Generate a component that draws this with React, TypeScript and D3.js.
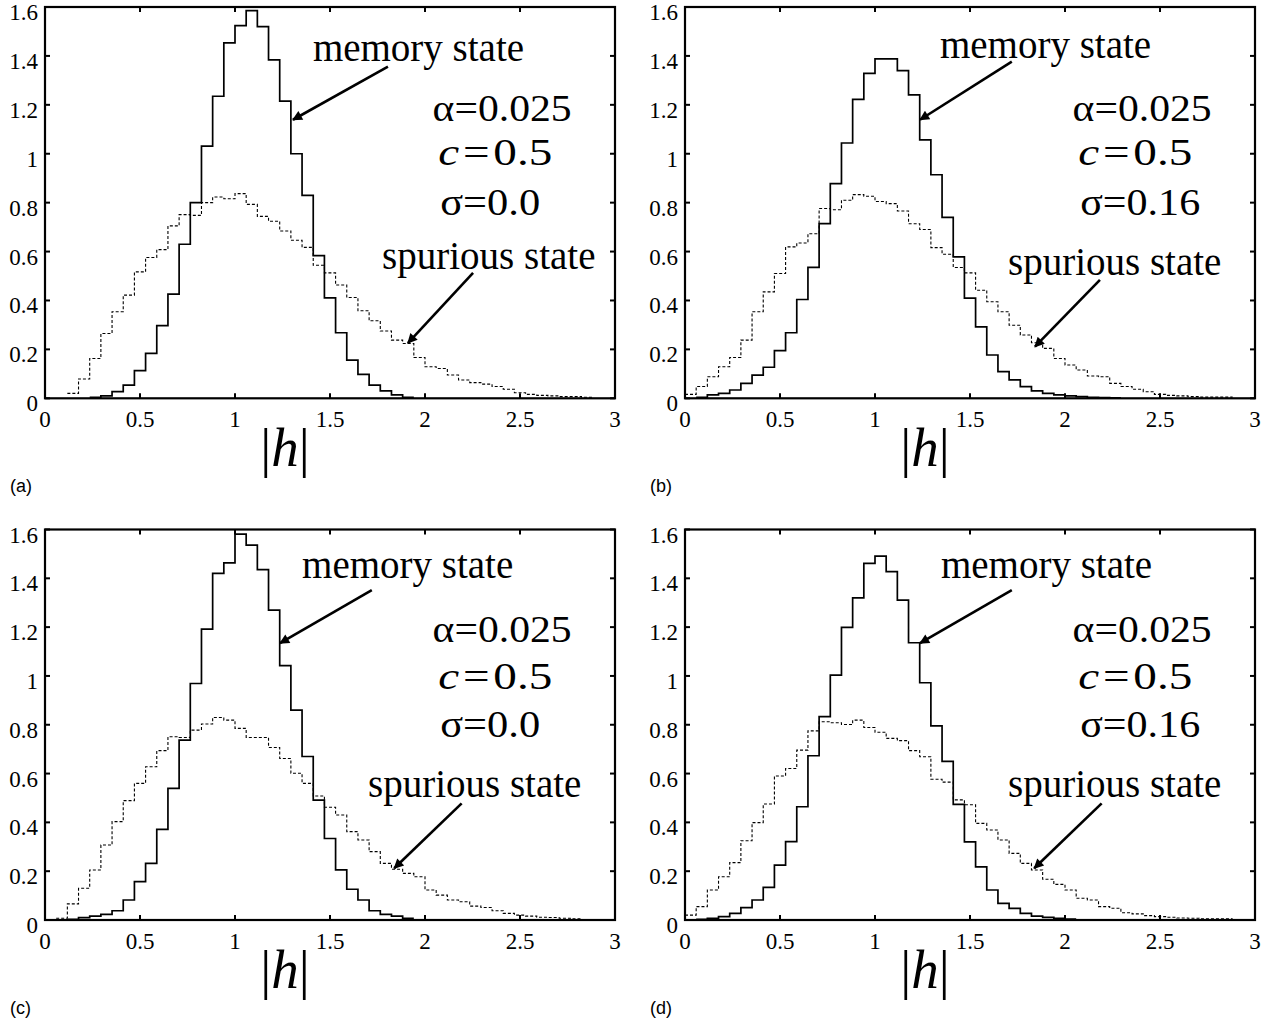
import React from 'react';
import * as d3 from 'd3';

// ---------- data ----------
const BIN_WIDTH = 3 / 51; // 51 bins over |h| in [0, 3]

const xTickValues = [0, 0.5, 1, 1.5, 2, 2.5, 3];
const xTickLabels = ['0', '0.5', '1', '1.5', '2', '2.5', '3'];
const yTickValues = [0, 0.2, 0.4, 0.6, 0.8, 1, 1.2, 1.4, 1.6];
const yTickLabels = ['0', '0.2', '0.4', '0.6', '0.8', '1', '1.2', '1.4', '1.6'];

const panelLetters = ['(a)', '(b)', '(c)', '(d)'];
const alphaValues = ['0.025', '0.025', '0.025', '0.025'];
const cValues = ['0.5', '0.5', '0.5', '0.5'];
const sigmaValues = ['0.0', '0.16', '0.0', '0.16'];

const memoryA = [
  0, 0, 0, 0, 0.004, 0.01, 0.027, 0.054, 0.113, 0.184, 0.297, 0.426, 0.63, 0.8, 1.031, 1.235, 1.453,
  1.524, 1.585, 1.52, 1.384, 1.215, 1.0, 0.83, 0.583, 0.411, 0.268, 0.156, 0.098, 0.054, 0.03, 0.014,
  0.004, 0, 0, 0, 0, 0, 0, 0, 0, 0, 0, 0, 0, 0, 0, 0, 0, 0, 0,
];
const spuriousA = [
  0, 0, 0.02, 0.079, 0.163, 0.265, 0.354, 0.422, 0.517, 0.576, 0.608, 0.705, 0.751, 0.748, 0.8, 0.823,
  0.816, 0.837, 0.793, 0.744, 0.724, 0.684, 0.646, 0.617, 0.544, 0.513, 0.463, 0.412, 0.358, 0.317,
  0.275, 0.238, 0.224, 0.167, 0.129, 0.122, 0.095, 0.075, 0.064, 0.058, 0.048, 0.037, 0.023, 0.016,
  0.012, 0.01, 0.007, 0.007, 0.004, 0, 0,
];
const memoryB = [
  0, 0.004, 0.014, 0.02, 0.034, 0.061, 0.095, 0.127, 0.195, 0.268, 0.404, 0.535, 0.714, 0.878, 1.044,
  1.222, 1.329, 1.388, 1.388, 1.34, 1.241, 1.057, 0.914, 0.74, 0.578, 0.41, 0.292, 0.177, 0.109, 0.075,
  0.048, 0.03, 0.02, 0.014, 0.01, 0.007, 0.004, 0.003, 0.002, 0, 0, 0, 0, 0, 0, 0, 0, 0, 0, 0, 0,
];
const spuriousB = [
  0.016, 0.048, 0.088, 0.129, 0.167, 0.238, 0.354, 0.435, 0.51, 0.619, 0.635, 0.673, 0.776, 0.771, 0.81,
  0.833, 0.826, 0.805, 0.796, 0.766, 0.714, 0.69, 0.616, 0.589, 0.535, 0.513, 0.442, 0.395, 0.354,
  0.299, 0.259, 0.227, 0.204, 0.163, 0.136, 0.116, 0.091, 0.088, 0.061, 0.048, 0.037, 0.027, 0.016,
  0.012, 0.01, 0.007, 0.005, 0.005, 0.005, 0, 0,
];
const memoryC = [
  0, 0, 0.003, 0.01, 0.016, 0.023, 0.038, 0.082, 0.157, 0.232, 0.371, 0.539, 0.737, 0.969, 1.192, 1.42,
  1.463, 1.581, 1.536, 1.436, 1.27, 1.042, 0.86, 0.67, 0.491, 0.334, 0.205, 0.126, 0.082, 0.038, 0.023,
  0.016, 0.007, 0, 0, 0, 0, 0, 0, 0, 0, 0, 0, 0, 0, 0, 0, 0, 0, 0, 0,
];
const spuriousC = [
  0, 0.007, 0.066, 0.13, 0.205, 0.307, 0.403, 0.489, 0.56, 0.628, 0.694, 0.751, 0.748, 0.778, 0.803,
  0.83, 0.819, 0.785, 0.748, 0.748, 0.707, 0.662, 0.601, 0.56, 0.508, 0.462, 0.43, 0.362, 0.328, 0.28,
  0.232, 0.208, 0.191, 0.177, 0.123, 0.102, 0.082, 0.075, 0.057, 0.051, 0.038, 0.027, 0.02, 0.016,
  0.011, 0.01, 0.007, 0.005, 0, 0, 0,
];
const memoryD = [
  0, 0.003, 0.007, 0.014, 0.027, 0.051, 0.082, 0.134, 0.225, 0.321, 0.464, 0.673, 0.833, 1.003, 1.199,
  1.32, 1.461, 1.491, 1.427, 1.311, 1.136, 0.972, 0.795, 0.65, 0.474, 0.32, 0.218, 0.123, 0.068, 0.048,
  0.027, 0.016, 0.011, 0.007, 0.004, 0, 0, 0, 0, 0, 0, 0, 0, 0, 0, 0, 0, 0, 0, 0, 0,
];
const spuriousD = [
  0.02, 0.055, 0.123, 0.177, 0.235, 0.325, 0.399, 0.475, 0.59, 0.621, 0.696, 0.775, 0.812, 0.808, 0.801,
  0.819, 0.789, 0.769, 0.744, 0.735, 0.694, 0.669, 0.577, 0.565, 0.492, 0.472, 0.396, 0.369, 0.328,
  0.273, 0.232, 0.205, 0.167, 0.146, 0.123, 0.089, 0.082, 0.055, 0.048, 0.03, 0.025, 0.018, 0.014,
  0.011, 0.008, 0.007, 0.005, 0.005, 0.005, 0, 0,
];

const memorySeries = [memoryA, memoryB, memoryC, memoryD];
const spuriousSeries = [spuriousA, spuriousB, spuriousC, spuriousD];

// ---------- layout (annotation anchors in data coordinates) ----------
const panelBoxes = [
  { left: 45, top: 7, bottom: 398.3 },
  { left: 685, top: 7, bottom: 398.3 },
  { left: 45, top: 529.5, bottom: 920 },
  { left: 685, top: 529.5, bottom: 920 },
];
const PLOT_W = 570;

const annotations = [
  {
    memText: [1.41, 1.38], spurText: [1.774, 0.528],
    memArrow: [1.805, 1.356, 1.305, 1.139], spurArrow: [2.253, 0.513, 1.91, 0.226],
    alphaY: 1.133, cY: 0.955, sigmaY: 0.75,
  },
  {
    memText: [1.342, 1.39], spurText: [1.7, 0.505],
    memArrow: [1.72, 1.377, 1.237, 1.139], spurArrow: [2.184, 0.484, 1.842, 0.211],
    alphaY: 1.133, cY: 0.955, sigmaY: 0.75,
  },
  {
    memText: [1.353, 1.4], spurText: [1.7, 0.505],
    memArrow: [1.72, 1.352, 1.237, 1.134], spurArrow: [2.193, 0.478, 1.838, 0.212],
    alphaY: 1.14, cY: 0.945, sigmaY: 0.751,
  },
  {
    memText: [1.347, 1.4], spurText: [1.7, 0.505],
    memArrow: [1.72, 1.352, 1.237, 1.134], spurArrow: [2.193, 0.478, 1.838, 0.212],
    alphaY: 1.14, cY: 0.945, sigmaY: 0.751,
  },
];

const SERIF = "'Liberation Serif', 'Times New Roman', Times, serif";
const SANS = "'Liberation Sans', Arial, Helvetica, sans-serif";

function stairPath(vals: number[], x: d3.ScaleLinear<number, number>, y: d3.ScaleLinear<number, number>) {
  const first = vals.findIndex((v) => v > 0);
  let last = vals.length - 1;
  while (last > 0 && vals[last] <= 0) last--;
  const pts: [number, number][] = [];
  for (let k = first; k <= last; k++) pts.push([k * BIN_WIDTH, vals[k]]);
  pts.push([(last + 1) * BIN_WIDTH, vals[last]]);
  return d3
    .line<[number, number]>()
    .x((d) => x(d[0]))
    .y((d) => y(d[1]))
    .curve(d3.curveStepAfter)(pts) as string;
}

function Panel({ i }: { i: number }) {
  const box = panelBoxes[i];
  const ann = annotations[i];
  const x = d3.scaleLinear().domain([0, 3]).range([box.left, box.left + PLOT_W]);
  const y = d3.scaleLinear().domain([0, 1.6]).range([box.bottom, box.top]);
  const tick = 5;
  const PF = 38;
  const sigmaLen = sigmaValues[i].length > 3 ? 120 : 100;
  return (
    <g>
      {/* histograms */}
      <path d={stairPath(spuriousSeries[i], x, y)} fill="none" stroke="#000" strokeWidth={1.1} strokeDasharray="3,2" />
      <path d={stairPath(memorySeries[i], x, y)} fill="none" stroke="#000" strokeWidth={1.7} />

      {/* box */}
      <rect x={x(0)} y={y(1.6)} width={x(3) - x(0)} height={y(0) - y(1.6)} fill="none" stroke="#000" strokeWidth={2.2} />
      {xTickValues.map((t) => (
        <g key={'xt' + t}>
          <line x1={x(t)} x2={x(t)} y1={y(0)} y2={y(0) - tick} stroke="#000" strokeWidth={2} />
          <line x1={x(t)} x2={x(t)} y1={y(1.6)} y2={y(1.6) + tick} stroke="#000" strokeWidth={2} />
        </g>
      ))}
      {yTickValues.map((t) => (
        <g key={'yt' + t}>
          <line x1={x(0)} x2={x(0) + tick} y1={y(t)} y2={y(t)} stroke="#000" strokeWidth={2} />
          <line x1={x(3)} x2={x(3) - tick} y1={y(t)} y2={y(t)} stroke="#000" strokeWidth={2} />
        </g>
      ))}
      {xTickValues.map((t, j) => (
        <text key={'xl' + t} x={x(t)} y={y(0) + 29} textAnchor="middle" fontFamily={SERIF} fontSize={23}>
          {xTickLabels[j]}
        </text>
      ))}
      {yTickValues.map((t, j) => (
        <text key={'yl' + t} x={x(0) - 7} y={y(t) + 13} textAnchor="end" fontFamily={SERIF} fontSize={23}>
          {yTickLabels[j]}
        </text>
      ))}

      {/* axis label */}
      <text x={x(1.263)} y={y(0) + 68} textAnchor="middle" fontFamily={SERIF} fontSize={55}>
        |<tspan fontStyle="italic">h</tspan>|
      </text>
      <text x={box.left - 35} y={y(0) + 94} fontFamily={SANS} fontSize={18}>
        {panelLetters[i]}
      </text>

      {/* annotations */}
      <text x={x(ann.memText[0])} y={y(ann.memText[1])} fontFamily={SERIF} fontSize={39}>
        memory state
      </text>
      <text x={x(ann.spurText[0])} y={y(ann.spurText[1])} fontFamily={SERIF} fontSize={39}>
        spurious state
      </text>
      <text x={x(2.04)} y={y(ann.alphaY)} fontFamily={SERIF} fontSize={PF} textLength={139} lengthAdjust="spacingAndGlyphs">
        {'α=' + alphaValues[i]}
      </text>
      <text x={x(2.07)} y={y(ann.cY)} fontFamily={SERIF} fontSize={PF} textLength={114} lengthAdjust="spacingAndGlyphs">
        <tspan fontStyle="italic">c</tspan>
        <tspan dx={3}>=</tspan>
        <tspan dx={3}>{cValues[i]}</tspan>
      </text>
      <text x={x(2.08)} y={y(ann.sigmaY)} fontFamily={SERIF} fontSize={PF} textLength={sigmaLen} lengthAdjust="spacingAndGlyphs">
        {'σ=' + sigmaValues[i]}
      </text>
      <line
        x1={x(ann.memArrow[0])} y1={y(ann.memArrow[1])} x2={x(ann.memArrow[2])} y2={y(ann.memArrow[3])}
        stroke="#000" strokeWidth={2.6} markerEnd="url(#arrowHead)"
      />
      <line
        x1={x(ann.spurArrow[0])} y1={y(ann.spurArrow[1])} x2={x(ann.spurArrow[2])} y2={y(ann.spurArrow[3])}
        stroke="#000" strokeWidth={2.6} markerEnd="url(#arrowHead)"
      />
    </g>
  );
}

export default function App() {
  return (
    <svg
      width={1275}
      height={1023}
      style={{ position: 'absolute', left: 0, top: 0, background: '#fff' }}
    >
      <defs>
        <marker
          id="arrowHead"
          viewBox="0 0 10 10"
          refX={9}
          refY={5}
          markerWidth={15}
          markerHeight={10}
          markerUnits="userSpaceOnUse"
          orient="auto"
        >
          <path d="M0,0 L10,5 L0,10 z" fill="#000" />
        </marker>
      </defs>
      <rect x={0} y={0} width={1275} height={1023} fill="#fff" />
      {[0, 1, 2, 3].map((i) => (
        <Panel key={i} i={i} />
      ))}
    </svg>
  );
}
